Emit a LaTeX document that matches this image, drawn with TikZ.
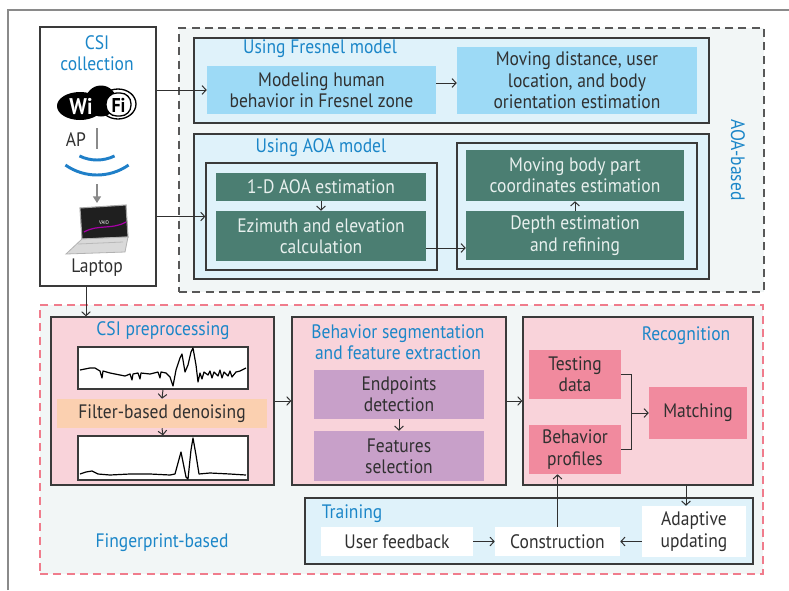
\documentclass[tikz,border=0pt]{standalone}
\usepackage{fontspec}
\setmainfont{PT Sans}[FakeStretch=0.9]
\usetikzlibrary{arrows.meta,calc}

\definecolor{ttl}{HTML}{1B86C8}
\definecolor{ink}{HTML}{303030}
\definecolor{frame}{HTML}{3A3A3A}
\definecolor{paleblue}{HTML}{DFF2FA}
\definecolor{skyblue}{HTML}{9DDAF6}
\definecolor{tealbox}{HTML}{4B7E72}
\definecolor{tealtext}{HTML}{E8F0EE}
\definecolor{region}{HTML}{F2F6F6}
\definecolor{pinkbg}{HTML}{F9D3DA}
\definecolor{peach}{HTML}{FBD0B0}
\definecolor{lilac}{HTML}{C8A0C9}
\definecolor{rose}{HTML}{F18A9E}
\definecolor{dashred}{HTML}{F07C8C}
\definecolor{outline}{HTML}{8A8A8A}
\definecolor{wave}{HTML}{1F7FC8}

\newcommand\bodyfont{\fontsize{14.6}{16}\selectfont}

\tikzset{
  % a rectangle given by its left, top, right and bottom edges (in px)
  corners/.style n args={4}{
    minimum width={(#3-#1)*0.75pt}, minimum height={(#4-#2)*0.75pt},
    at={({(#1+#3)/2},{(#2+#4)/2})}},
  panel/.style={draw=frame, line width=0.95pt, inner sep=0pt},
  blk/.style={inner sep=0pt, align=center, text=ink, font=\bodyfont},
  darkblk/.style={blk, fill=tealbox, text=tealtext},
  title/.style={text=ttl, font=\bodyfont, align=center, inner sep=0pt},
  arr/.style={draw=ink, line width=0.75pt, -{Straight Barb[length=3pt,width=6.5pt]}},
  link/.style={draw=ink, line width=0.75pt},
  region/.style={fill=region, line width=0.9pt, inner sep=0pt, dash pattern=on 6pt off 4pt},
  sig/.style={draw=black, line width=0.9pt, line join=round},
}

\begin{document}
\begin{tikzpicture}[x=0.75pt,y=-0.75pt]
\useasboundingbox (0,0) rectangle (789,590);

% outer frame
\draw[outline, line width=1.2pt] (8,590) -- (8,10) -- (789,10);

% dashed regions
\node[region, draw=frame!85, corners={179}{28}{764}{292}] (aoareg) {};
\node[region, draw=dashred, corners={40}{305}{763}{574}] (fpreg) {};

% ---------- CSI collection ----------
\node[panel, fill=white, corners={40}{27}{156}{286}] (csi) {};
\node[title] (csititle) at (97,53) {CSI\\collection};

% Wi-Fi logo
\fill[black] (80,106) ellipse [x radius=23, y radius=14];
\fill[black] (101,101) circle [radius=15.5];
\draw[black, line width=1pt] (118,104) ellipse [x radius=18, y radius=15];
\filldraw[fill=white, draw=black, line width=1pt, rounded corners=8pt] (106,93) rectangle (131,116);
\node[text=white, font=\bfseries\fontsize{17}{17}\selectfont, inner sep=0pt] (wi) at (81,106) {Wi};
\node[text=black, font=\bfseries\fontsize{15}{15}\selectfont, inner sep=0pt] (fi) at (118.5,105) {Fi};

\node[blk] (ap) at (76,140) {AP};
\draw[outline, line width=1pt] (97,128) -- (97,149);
\draw[wave, line width=2.2pt] ($(97,120)+(64:40)$) arc [start angle=64, end angle=116, radius=40];
\draw[wave, line width=2.2pt] ($(97,120)+(55:55)$) arc [start angle=55, end angle=125, radius=55];
\draw[outline, line width=1pt, -{Triangle[length=5pt,width=6pt]}] (97,184) -- (97,203);

% laptop
\filldraw[fill=black!88, draw=gray!70, line width=0.8pt] (80,208) -- (126,205) -- (128,237) -- (82,239) -- cycle;
\draw[violet!70!magenta, line width=0.9pt] (84,232) .. controls (98,224) and (112,230) .. (126,222);
\node[text=white, font=\fontsize{4}{4}\selectfont, inner sep=0pt] (vaio) at (104,223) {VAIO};
\filldraw[fill=gray!30, draw=gray!60, line width=0.6pt] (82,239) -- (128,237) -- (125,252) -- (66,254) -- cycle;
\draw[gray!55, line width=0.6pt] (78,244) -- (123,242);
\node[blk] (laptop) at (97,268) {Laptop};

% ---------- AOA-based ----------
\node[panel, fill=paleblue, corners={194}{38}{709}{123}] (fres) {};
\node[title] (frestitle) at (320,49) {Using Fresnel model};
\node[blk, fill=skyblue, corners={207}{66}{436}{114}] (model) {Modeling human\\behavior in Fresnel zone};
\node[blk, fill=skyblue, corners={457}{47}{697}{114}] (moving) {Moving distance, user\\location, and body\\orientation estimation};

\node[panel, fill=paleblue, corners={194}{134}{709}{279}] (aoa) {};
\node[title] (aoatitle) at (321,148) {Using AOA model};
\node[panel, fill=paleblue, corners={206}{163}{437}{270}] (aoaL) {};
\node[darkblk, corners={216}{173}{426}{201}] (aoa1) {1-D AOA estimation};
\node[darkblk, corners={216}{211}{426}{261}] (ezi) {Ezimuth and elevation\\calculation};
\node[panel, fill=paleblue, corners={457}{143}{697}{269}] (aoaR) {};
\node[darkblk, corners={466}{150}{684}{201}] (mbody) {Moving body part\\coordinates estimation};
\node[darkblk, corners={466}{211}{684}{260}] (depth) {Depth estimation\\and refining};

\node[title, rotate=-90] (aoatag) at (738,160) {AOA-based};

\draw[arr] (csi.east |- model.west) -- (model.west);
\draw[arr] (model.east |- 0,83) -- (moving.west |- 0,83);
\draw[arr] (csi.east |- aoaL.west) -- (aoaL.west);
\draw[arr] (aoa1.south) -- (ezi.north);
\draw[arr] (ezi.east |- 0,248) -- (depth.west |- 0,248);
\draw[arr] (depth.north) -- (mbody.south);

% ---------- Fingerprint-based ----------
\node[panel, fill=pinkbg, corners={51}{317}{274}{485}] (pre) {};
\node[title] (pretitle) at (163,331) {CSI preprocessing};
\node[panel, fill=white, corners={78}{347}{248}{389}] (sig1) {};
\node[blk, fill=peach, corners={57}{399}{267}{428}] (filter) {Filter-based denoising};
\node[panel, fill=white, corners={78}{436}{248}{480}] (sig2) {};

% raw CSI trace
\draw[sig] (80,370) -- (90,368) -- (95,368) -- (100,371) -- (102,378) -- (103,371) -- (110,373)
  -- (120,375) -- (125,376) -- (130,374) -- (132,380) -- (133,374) -- (138,373) -- (140,379)
  -- (141,373) -- (150,374) -- (158,372) -- (160,378) -- (161,372) -- (166,373) -- (170,377)
  -- (173,386) -- (176,370) -- (180,358) -- (182,354) -- (185,372) -- (188,365) -- (191,352)
  -- (193,348) -- (196,365) -- (198,382) -- (200,373) -- (202,379) -- (204,372) -- (208,375)
  -- (210,371) -- (212,378) -- (214,372) -- (218,376) -- (220,370) -- (222,378) -- (224,372)
  -- (228,376) -- (230,371) -- (232,377) -- (236,372) -- (240,371) -- (246,368);
% denoised trace
\draw[sig] (80,474) -- (86,472) -- (92,471) -- (98,474) -- (110,475) -- (130,474) -- (150,474)
  -- (170,475) -- (175,474) -- (181,452) -- (186,477) -- (188,479) -- (191,450) -- (193,438)
  -- (196,455) -- (199,474) -- (210,473) -- (230,474) -- (246,475);

\node[panel, fill=pinkbg, corners={292}{317}{506}{485}] (beh) {};
\node[title] (behtitle) at (398,342) {Behavior segmentation\\and feature extraction};
\node[blk, fill=lilac, corners={314}{370}{484}{419}] (endp) {Endpoints\\detection};
\node[blk, fill=lilac, corners={314}{431}{484}{481}] (feat) {Features\\selection};

\node[panel, fill=pinkbg, corners={523}{317}{753}{485}] (rec) {};
\node[title] (rectitle) at (686,336) {Recognition};
\node[blk, fill=rose, corners={529}{350}{621}{399}] (test) {Testing\\data};
\node[blk, fill=rose, corners={529}{425}{621}{474}] (prof) {Behavior\\profiles};
\node[blk, fill=rose, corners={649}{387}{747}{439}] (match) {Matching};

\node[panel, fill=paleblue, corners={305}{498}{753}{564}] (train) {};
\node[title] (traintitle) at (352,514) {Training};
\node[blk, fill=white, corners={321}{527}{473}{556}] (uf) {User feedback};
\node[blk, fill=white, corners={495}{527}{620}{556}] (cons) {Construction};
\node[blk, fill=white, corners={642}{506}{746}{557}] (adapt) {Adaptive\\updating};

\node[title] (fptag) at (162,543) {Fingerprint-based};

% connectors
\draw[arr] (csi.south -| 86,0) -- (pre.north -| 86,0);
\draw[arr] (sig1.south) -- (filter.north);
\draw[arr] (filter.south) -- (sig2.north);
\draw[arr] (pre.east) -- (beh.west);
\draw[arr] (endp.south) -- (feat.north);
\draw[arr] (beh.east) -- (rec.west);
\coordinate (join) at (631,413);
\draw[link] (test.east) -| (join);
\draw[link] (prof.east) -| (join);
\draw[arr] (join) -- (match.west);
\draw[arr] (uf.east) -- (cons.west);
\draw[arr] (adapt.west |- cons.east) -- (cons.east);
\draw[arr] (cons.north) -- (cons.north |- prof.south);
\draw[arr] (rec.south -| 686,0) -- (adapt.north -| 686,0);

\end{tikzpicture}
\end{document}
